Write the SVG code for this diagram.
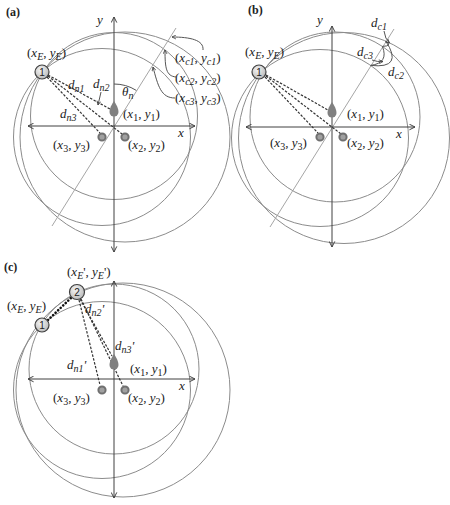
<svg xmlns="http://www.w3.org/2000/svg" width="450" height="505" viewBox="0 0 450 505">
<defs>
<style>
.bg{fill:#fff}
.ax{stroke:#404040;stroke-width:1;fill:none}
.ci{stroke:#8c8c8c;stroke-width:1;fill:none}
.dg{stroke:#a6a6a6;stroke-width:1;fill:none}
.ds{stroke:#333;stroke-width:1.2;stroke-dasharray:2.5 1.5;fill:none}
.dot{stroke:#111;stroke-width:2.6;stroke-dasharray:0.1 3.4;stroke-linecap:round;fill:none}
.pt{stroke:#555;stroke-width:1;fill:none}
.t{font-family:"Liberation Serif",serif;font-size:13px;fill:#222}
.i{font-style:italic}
.s{font-size:10px}
.pl{font-family:"Liberation Serif",serif;font-size:12px;font-weight:bold;fill:#222}
.nd{fill:url(#ng);stroke:#404040;stroke-width:1.2}
.nt{font-family:"Liberation Sans",sans-serif;font-size:10px;fill:#222;text-anchor:middle}
.an{fill:#a0a0a0;stroke:#707070;stroke-width:2}
.dr{fill:#808080}
</style>
<radialGradient id="ng" cx="0.4" cy="0.35" r="0.7">
<stop offset="0" stop-color="#f4f4f4"/>
<stop offset="1" stop-color="#b8b8b8"/>
</radialGradient>
<marker id="ah" viewBox="0 0 10 10" refX="9" refY="5" markerWidth="7" markerHeight="7" markerUnits="userSpaceOnUse" orient="auto-start-reverse">
<path d="M1,1 L9,5 L1,9" fill="none" stroke="#404040" stroke-width="1.4"/>
</marker>
<marker id="sa" viewBox="0 0 10 10" refX="9" refY="5" markerWidth="5" markerHeight="5" markerUnits="userSpaceOnUse" orient="auto">
<path d="M1,1 L9,5 L1,9" fill="none" stroke="#444" stroke-width="1.6"/>
</marker>
<path id="drop" d="M0,-9 C0,-9 4.5,-3 4.5,2 A4.5,4.5 0 0 1 -4.5,2 C-4.5,-3 0,-9 0,-9 Z"/>
</defs>
<rect class="bg" x="0" y="0" width="450" height="505"/>

<!-- ============ PANEL (a) ============ -->
<g id="panel-a">
<text class="pl" x="6" y="16">(a)</text>
<g id="a-circles">
<circle class="ci" cx="114" cy="116" r="83.5"/>
<circle class="ci" cx="102" cy="137" r="88.5"/>
<circle class="ci" cx="125" cy="137" r="105"/>
</g>
<g id="a-axes">
<line class="dg" x1="52" y1="226" x2="176" y2="28"/>
<line class="ax" x1="28" y1="126" x2="195" y2="126" marker-start="url(#ah)" marker-end="url(#ah)"/>
<line class="ax" x1="114" y1="252" x2="114" y2="17" marker-start="url(#ah)" marker-end="url(#ah)"/>
<path class="pt" d="M114,84 A42,42 0 0 1 136.3,90.4"/>
<text class="t i" x="97" y="24">y</text>
<text class="t i" x="178" y="137">x</text>
</g>
<g id="a-connectors">
<path class="ds" d="M48,75 L110,109"/>
<path class="ds" d="M48,76 L122,134"/>
<path class="ds" d="M47,77 L100,133"/>
<path class="pt" d="M101,92 L98,105" marker-end="url(#sa)"/>
<path class="pt" d="M203,50 C204,40 190,37 172,37" marker-end="url(#sa)"/>
<path class="pt" d="M176,77 C166,76 165,68 165,50" marker-end="url(#sa)"/>
<path class="pt" d="M175,98 C161,98 158,86 153,67" marker-end="url(#sa)"/>
</g>
<g id="a-anchor1"><use href="#drop" class="dr" x="114" y="110"/></g>
<g id="a-anchor2"><circle class="an" cx="125" cy="137" r="3.6"/></g>
<g id="a-anchor3"><circle class="an" cx="102" cy="137" r="3.6"/></g>
<g id="a-node1"><circle class="nd" cx="42" cy="72" r="7"/><text class="nt" x="42" y="75.5">1</text></g>
<g id="a-labels">
<text class="t" x="27" y="57">(<tspan class="i">x</tspan><tspan class="i s" dy="3">E</tspan><tspan dy="-3">, </tspan><tspan class="i">y</tspan><tspan class="i s" dy="3">E</tspan><tspan dy="-3">)</tspan></text>
<text class="t i" x="68" y="89">d<tspan class="s" dy="3">n1</tspan></text>
<text class="t i" x="93" y="88">d<tspan class="s" dy="3">n2</tspan></text>
<text class="t i" x="60" y="118">d<tspan class="s" dy="3">n3</tspan></text>
<text class="t i" x="122" y="96">θ<tspan class="s" dy="3">n</tspan></text>
<text class="t" x="123" y="118">(<tspan class="i">x</tspan><tspan class="s" dy="3">1</tspan><tspan dy="-3">, </tspan><tspan class="i">y</tspan><tspan class="s" dy="3">1</tspan><tspan dy="-3">)</tspan></text>
<text class="t" x="53" y="149">(<tspan class="i">x</tspan><tspan class="s" dy="3">3</tspan><tspan dy="-3">, </tspan><tspan class="i">y</tspan><tspan class="s" dy="3">3</tspan><tspan dy="-3">)</tspan></text>
<text class="t" x="128" y="149">(<tspan class="i">x</tspan><tspan class="s" dy="3">2</tspan><tspan dy="-3">, </tspan><tspan class="i">y</tspan><tspan class="s" dy="3">2</tspan><tspan dy="-3">)</tspan></text>
<text class="t" x="175" y="62">(<tspan class="i">x</tspan><tspan class="i s" dy="3">c1</tspan><tspan dy="-3">, </tspan><tspan class="i">y</tspan><tspan class="i s" dy="3">c1</tspan><tspan dy="-3">)</tspan></text>
<text class="t" x="175" y="82">(<tspan class="i">x</tspan><tspan class="i s" dy="3">c2</tspan><tspan dy="-3">, </tspan><tspan class="i">y</tspan><tspan class="i s" dy="3">c2</tspan><tspan dy="-3">)</tspan></text>
<text class="t" x="175" y="102">(<tspan class="i">x</tspan><tspan class="i s" dy="3">c3</tspan><tspan dy="-3">, </tspan><tspan class="i">y</tspan><tspan class="i s" dy="3">c3</tspan><tspan dy="-3">)</tspan></text>
</g>
</g>

<!-- ============ PANEL (b) ============ -->
<g id="panel-b">
<text class="pl" x="248" y="14">(b)</text>
<g id="b-circles">
<circle class="ci" cx="335" cy="117" r="85"/>
<circle class="ci" cx="320" cy="138" r="88.5"/>
<circle class="ci" cx="344" cy="138" r="105.5"/>
</g>
<g id="b-axes">
<line class="dg" x1="270" y1="227" x2="394" y2="29"/>
<line class="ax" x1="246" y1="127" x2="415" y2="127" marker-start="url(#ah)" marker-end="url(#ah)"/>
<line class="ax" x1="332" y1="247" x2="332" y2="26" marker-start="url(#ah)" marker-end="url(#ah)"/>
<text class="t i" x="317" y="24">y</text>
<text class="t i" x="396" y="138">x</text>
</g>
<g id="b-connectors">
<path class="ds" d="M266,75 L328,110"/>
<path class="ds" d="M266,76 L341,134"/>
<path class="ds" d="M265,77 L318,133"/>
<path class="pt" d="M385.8,41.1 Q393,46 382.4,46.4"/>
<path class="pt" d="M382.4,46.4 Q389,63 370.6,65.4"/>
<path class="pt" d="M385.8,41.1 Q404,69 370.6,65.4"/>
<path class="pt" d="M384,31 Q385,39 389.5,43" marker-end="url(#sa)"/>
<path class="pt" d="M372,60 Q377,62 383,61.5" marker-end="url(#sa)"/>
</g>
<g id="b-anchor1"><use href="#drop" class="dr" x="332" y="111"/></g>
<g id="b-anchor2"><circle class="an" cx="343" cy="137" r="3.6"/></g>
<g id="b-anchor3"><circle class="an" cx="320" cy="137" r="3.6"/></g>
<g id="b-node1"><circle class="nd" cx="259" cy="72" r="7"/><text class="nt" x="259" y="75.5">1</text></g>
<g id="b-labels">
<text class="t" x="245" y="56">(<tspan class="i">x</tspan><tspan class="i s" dy="3">E</tspan><tspan dy="-3">, </tspan><tspan class="i">y</tspan><tspan class="i s" dy="3">E</tspan><tspan dy="-3">)</tspan></text>
<text class="t" x="347" y="118">(<tspan class="i">x</tspan><tspan class="s" dy="3">1</tspan><tspan dy="-3">, </tspan><tspan class="i">y</tspan><tspan class="s" dy="3">1</tspan><tspan dy="-3">)</tspan></text>
<text class="t" x="270" y="147">(<tspan class="i">x</tspan><tspan class="s" dy="3">3</tspan><tspan dy="-3">, </tspan><tspan class="i">y</tspan><tspan class="s" dy="3">3</tspan><tspan dy="-3">)</tspan></text>
<text class="t" x="347" y="147">(<tspan class="i">x</tspan><tspan class="s" dy="3">2</tspan><tspan dy="-3">, </tspan><tspan class="i">y</tspan><tspan class="s" dy="3">2</tspan><tspan dy="-3">)</tspan></text>
<text class="t i" x="371" y="27">d<tspan class="s" dy="3">c1</tspan></text>
<text class="t i" x="357" y="56">d<tspan class="s" dy="3">c3</tspan></text>
<text class="t i" x="388" y="76">d<tspan class="s" dy="3">c2</tspan></text>
</g>
</g>

<!-- ============ PANEL (c) ============ -->
<g id="panel-c">
<text class="pl" x="4" y="271">(c)</text>
<g id="c-circles">
<circle class="ci" cx="114" cy="369" r="85"/>
<circle class="ci" cx="102" cy="390" r="88.5"/>
<circle class="ci" cx="123" cy="390" r="107"/>
</g>
<g id="c-axes">
<line class="ax" x1="28" y1="379" x2="195" y2="379" marker-start="url(#ah)" marker-end="url(#ah)"/>
<line class="ax" x1="114" y1="498" x2="114" y2="281" marker-start="url(#ah)" marker-end="url(#ah)"/>
<text class="t i" x="179" y="390">x</text>
</g>
<g id="c-connectors">
<path class="dot" d="M48,320 L72,297"/>
<path class="ds" d="M80,299 L112,356"/>
<path class="ds" d="M81,299 L123,386"/>
<path class="ds" d="M79,300 L100,385"/>
</g>
<g id="c-anchor1"><use href="#drop" class="dr" x="114" y="363"/></g>
<g id="c-anchor2"><circle class="an" cx="125" cy="390" r="3.6"/></g>
<g id="c-anchor3"><circle class="an" cx="102" cy="390" r="3.6"/></g>
<g id="c-node1"><circle class="nd" cx="42" cy="325" r="7"/><text class="nt" x="42" y="328.5">1</text></g>
<g id="c-node2"><circle class="nd" cx="77" cy="292" r="7.5"/><text class="nt" x="77" y="295.5">2</text></g>
<g id="c-labels">
<text class="t" x="67" y="276">(<tspan class="i">x</tspan><tspan class="i s" dy="3">E</tspan><tspan dy="-3">', </tspan><tspan class="i">y</tspan><tspan class="i s" dy="3">E</tspan><tspan dy="-3">')</tspan></text>
<text class="t" x="7" y="310">(<tspan class="i">x</tspan><tspan class="i s" dy="3">E</tspan><tspan dy="-3">, </tspan><tspan class="i">y</tspan><tspan class="i s" dy="3">E</tspan><tspan dy="-3">)</tspan></text>
<text class="t i" x="85" y="313">d<tspan class="s" dy="3">n2</tspan><tspan dy="-3">'</tspan></text>
<text class="t i" x="115" y="350">d<tspan class="s" dy="3">n3</tspan><tspan dy="-3">'</tspan></text>
<text class="t i" x="67" y="369">d<tspan class="s" dy="3">n1</tspan><tspan dy="-3">'</tspan></text>
<text class="t" x="130" y="373">(<tspan class="i">x</tspan><tspan class="s" dy="3">1</tspan><tspan dy="-3">, </tspan><tspan class="i">y</tspan><tspan class="s" dy="3">1</tspan><tspan dy="-3">)</tspan></text>
<text class="t" x="53" y="402">(<tspan class="i">x</tspan><tspan class="s" dy="3">3</tspan><tspan dy="-3">, </tspan><tspan class="i">y</tspan><tspan class="s" dy="3">3</tspan><tspan dy="-3">)</tspan></text>
<text class="t" x="128" y="402">(<tspan class="i">x</tspan><tspan class="s" dy="3">2</tspan><tspan dy="-3">, </tspan><tspan class="i">y</tspan><tspan class="s" dy="3">2</tspan><tspan dy="-3">)</tspan></text>
</g>
</g>
</svg>
